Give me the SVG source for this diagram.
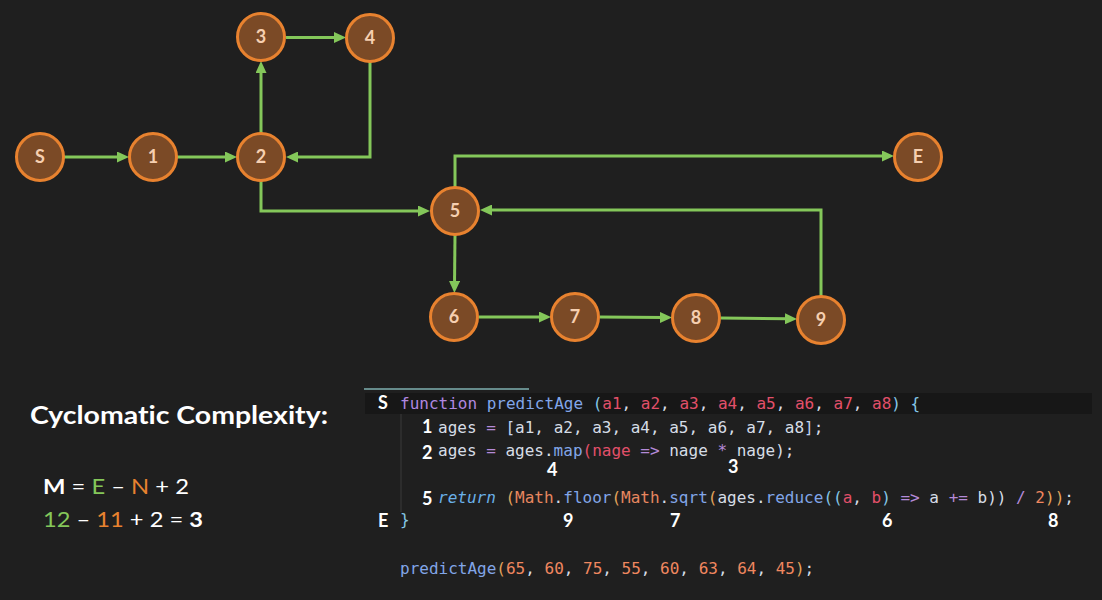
<svg xmlns="http://www.w3.org/2000/svg" width="1102" height="600" viewBox="0 0 1102 600">
<defs>
<marker id="ah" markerUnits="userSpaceOnUse" markerWidth="12" markerHeight="11" refX="4" refY="5.5" orient="auto">
<path d="M0,0 L12,5.5 L0,11 z" fill="#84c75a"/>
</marker>
<style>
.edge{fill:none;stroke:#84c75a;stroke-width:3;marker-end:url(#ah)}
.node circle{fill:#7b4a26;stroke:#e8822f;stroke-width:3}
.node text{font-family:Lato,"Open Sans",sans-serif;font-weight:bold;font-size:18px;fill:#f6cfb0;text-anchor:middle}
.code{font-family:"DejaVu Sans Mono","Liberation Mono",monospace;font-size:16px;fill:#d6dde6}
.lbl{font-family:Lato,"Noto Sans",sans-serif;font-weight:bold;font-size:18px;fill:#ffffff}
.big{font-family:Lato,"Noto Sans",sans-serif;fill:#ffffff;font-variant-ligatures:none}
.k{fill:#b087e0}
.f{fill:#82a6e8}
.c{fill:#84c6e6}
.p{fill:#e2506a}
.o{fill:#b48ad8}
.b{fill:#c3d4f0}
.r{fill:#6ab0e8;font-style:italic}
.g{fill:#e2a45c}
.m{fill:#e8875f}
.n{fill:#f0875f}
.gr{fill:#84c75a}
.or{fill:#e8822f}
</style>
</defs>
<rect width="1102" height="600" fill="#1f1f1f"/>

<g id="connectors">
<path class="edge" d="M63,157 L121,157"/>
<path class="edge" d="M177,157 L229,157"/>
<path class="edge" d="M261,133 L261,69"/>
<path class="edge" d="M286,37.5 L338,37.5"/>
<path class="edge" d="M370,62 L370,157 L294,157"/>
<path class="edge" d="M261,181 L261,211 L422,211"/>
<path class="edge" d="M455,187 L455,156 L886,156"/>
<path class="edge" d="M821,296 L821,210 L488,210"/>
<path class="edge" d="M455,235 L454.5,285"/>
<path class="edge" d="M479,317 L543,317"/>
<path class="edge" d="M600,317 L664,317.5"/>
<path class="edge" d="M721,318 L789,318.8"/>
</g>

<g id="node-S" class="node"><circle cx="40" cy="157" r="23.5"/><text x="40" y="163">S</text></g>
<g id="node-1" class="node"><circle cx="153" cy="157" r="23.5"/><text x="153" y="163">1</text></g>
<g id="node-2" class="node"><circle cx="261" cy="157" r="23.5"/><text x="261" y="163">2</text></g>
<g id="node-3" class="node"><circle cx="261" cy="37" r="23.5"/><text x="261" y="43">3</text></g>
<g id="node-4" class="node"><circle cx="370" cy="38" r="23.5"/><text x="370" y="44">4</text></g>
<g id="node-E" class="node"><circle cx="918" cy="157" r="23.5"/><text x="918" y="163">E</text></g>
<g id="node-5" class="node"><circle cx="455" cy="211" r="23.5"/><text x="455" y="217">5</text></g>
<g id="node-6" class="node"><circle cx="454" cy="317" r="23.5"/><text x="454" y="323">6</text></g>
<g id="node-7" class="node"><circle cx="575" cy="317" r="23.5"/><text x="575" y="323">7</text></g>
<g id="node-8" class="node"><circle cx="696" cy="318" r="23.5"/><text x="696" y="324">8</text></g>
<g id="node-9" class="node"><circle cx="821" cy="320" r="23.5"/><text x="821" y="326">9</text></g>

<g id="formula">
<text class="big" x="30" y="424" font-size="25" font-weight="bold" textLength="298" lengthAdjust="spacingAndGlyphs">Cyclomatic Complexity:</text>
<text class="big" x="43" y="494" font-size="21" textLength="146" lengthAdjust="spacingAndGlyphs" xml:space="preserve"><tspan font-weight="bold">M</tspan> = <tspan class="gr">E</tspan> – <tspan class="or">N</tspan> + 2</text>
<text class="big" x="43" y="527" font-size="21" textLength="160" lengthAdjust="spacingAndGlyphs" xml:space="preserve"><tspan class="gr">12</tspan> – <tspan class="or">11</tspan> + 2 = <tspan font-weight="bold">3</tspan></text>
</g>

<g id="code">
<rect x="365" y="393" width="727" height="21" fill="#171717"/>
<line x1="364" y1="389" x2="529" y2="389" stroke="#7fb0b0" stroke-width="1.5"/>
<line x1="401" y1="414" x2="401" y2="512" stroke="#3a3a3a" stroke-width="1"/>
<text class="lbl" x="378" y="409">S</text>
<text class="code" x="400" y="409" xml:space="preserve"><tspan class="k">function</tspan> <tspan class="f">predictAge</tspan> <tspan class="c">(</tspan><tspan class="p">a1</tspan>, <tspan class="p">a2</tspan>, <tspan class="p">a3</tspan>, <tspan class="p">a4</tspan>, <tspan class="p">a5</tspan>, <tspan class="p">a6</tspan>, <tspan class="p">a7</tspan>, <tspan class="p">a8</tspan><tspan class="c">) {</tspan></text>
<text class="lbl" x="422" y="433">1</text>
<text class="code" x="438" y="433" xml:space="preserve">ages <tspan class="o">=</tspan> <tspan class="b">[</tspan>a1, a2, a3, a4, a5, a6, a7, a8<tspan class="b">]</tspan>;</text>
<text class="lbl" x="422" y="459">2</text>
<text class="code" x="438" y="456" xml:space="preserve">ages <tspan class="o">=</tspan> ages.<tspan class="f">map</tspan><tspan class="p">(nage</tspan> <tspan class="o">=&gt;</tspan> nage <tspan class="o">*</tspan> nage);</text>
<text class="lbl" x="547" y="476">4</text>
<text class="lbl" x="728" y="473">3</text>
<text class="lbl" x="422" y="505">5</text>
<text class="code" x="438" y="503" xml:space="preserve"><tspan class="r">return</tspan> <tspan class="g">(</tspan><tspan class="m">Math</tspan>.<tspan class="f">floor</tspan><tspan class="g">(</tspan><tspan class="m">Math</tspan>.<tspan class="f">sqrt</tspan><tspan class="g">(</tspan>ages.<tspan class="f">reduce</tspan><tspan class="c">((</tspan><tspan class="p">a</tspan>, <tspan class="p">b</tspan><tspan class="c">)</tspan> <tspan class="o">=&gt;</tspan> a <tspan class="o">+=</tspan> b)) <tspan class="o">/</tspan> <tspan class="n">2</tspan><tspan class="g">))</tspan>;</text>
<text class="lbl" x="378" y="527">E</text>
<text class="code c" x="400" y="525">}</text>
<text class="lbl" x="563" y="527">9</text>
<text class="lbl" x="670" y="527">7</text>
<text class="lbl" x="882" y="527">6</text>
<text class="lbl" x="1048" y="527">8</text>
<text class="code" x="400" y="574" xml:space="preserve"><tspan class="f">predictAge</tspan><tspan class="g">(</tspan><tspan class="n">65</tspan>, <tspan class="n">60</tspan>, <tspan class="n">75</tspan>, <tspan class="n">55</tspan>, <tspan class="n">60</tspan>, <tspan class="n">63</tspan>, <tspan class="n">64</tspan>, <tspan class="n">45</tspan><tspan class="g">)</tspan>;</text>
</g>
</svg>
